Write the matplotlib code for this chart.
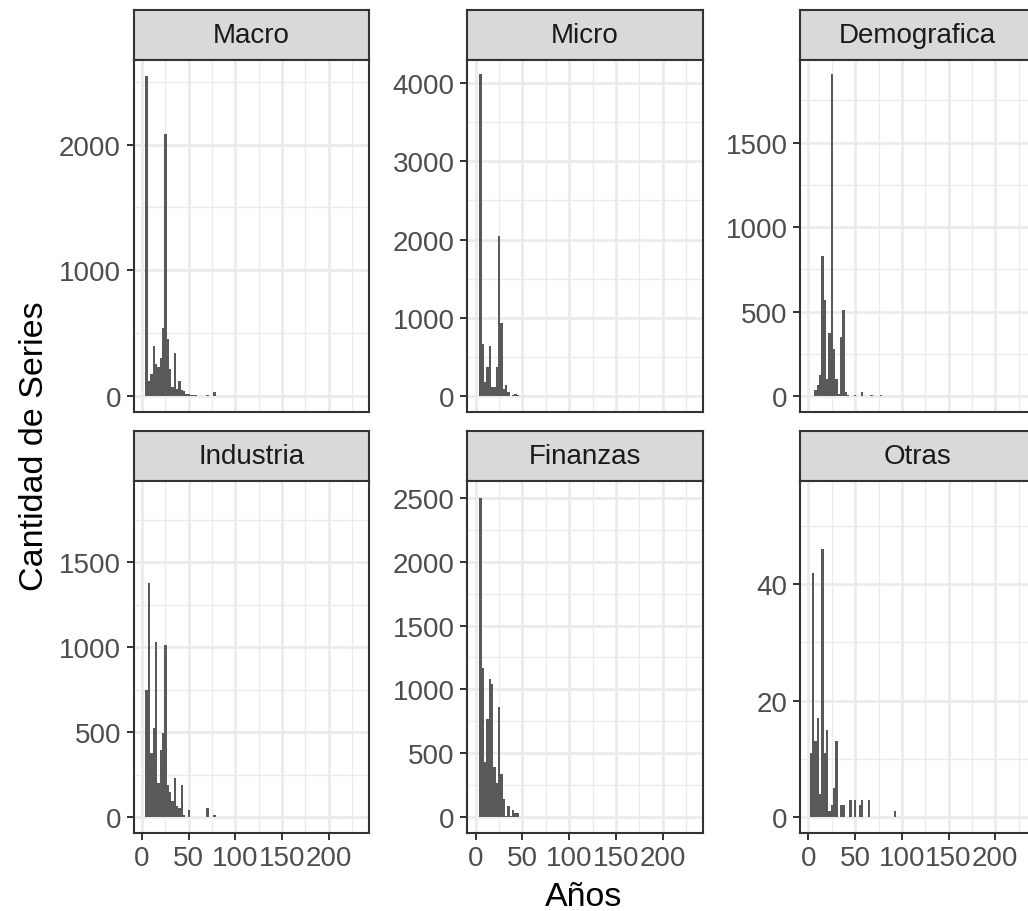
import numpy as np
import matplotlib
matplotlib.use("Agg")
import matplotlib.pyplot as plt

plt.rcParams['font.family'] = ['Liberation Sans', 'DejaVu Sans']

#Bin centers (years) shared by every panel
bins = [2.5, 5, 7.5, 10, 12.5, 15, 17.5, 20, 22.5, 25, 27.5, 30, 32.5, 35, 37.5, 40,
        42.5, 45, 47.5, 50, 52.5, 55, 57.5, 60, 62.5, 65, 67.5, 70, 72.5, 75, 77.5,
        80, 82.5, 85, 87.5, 90, 92.5, 95]
binwidth = 2.5

#Counts per panel, one value per bin
macro = [0, 2545, 123, 175, 400, 254, 228, 306, 542, 2087, 450, 215, 70, 345, 58, 123,
         45, 37, 13, 12, 10, 10, 8, 0, 0, 0, 0, 6, 0, 0, 30,
         0, 0, 0, 0, 0, 0, 0]
micro = [0, 4115, 665, 178, 368, 643, 114, 114, 368, 2040, 931, 93, 135, 50, 0, 15,
         20, 10, 0, 0, 0, 0, 0, 0, 0, 0, 0, 0, 0, 0, 0,
         0, 0, 0, 0, 0, 0, 0]
demografica = [0, 0, 37, 63, 122, 827, 567, 102, 376, 1906, 278, 102, 10, 347, 510, 24,
               8, 0, 0, 6, 0, 0, 24, 0, 0, 0, 6, 0, 0, 0, 6,
               0, 0, 0, 0, 0, 0, 0]
industria = [0, 746, 1381, 379, 527, 1029, 203, 394, 496, 1016, 189, 150, 92, 232, 62, 53,
             191, 14, 0, 43, 0, 0, 0, 0, 0, 0, 0, 53, 0, 0, 10,
             0, 0, 0, 0, 0, 0, 0]
finanzas = [0, 2500, 1167, 433, 770, 1081, 1042, 394, 270, 861, 334, 140, 10, 83, 5, 52,
            31, 31, 0, 0, 0, 0, 0, 0, 0, 0, 0, 0, 0, 0, 0,
            0, 0, 0, 0, 0, 0, 0]
otras = [11, 42, 13, 17, 4, 46, 11, 15, 1, 2, 5, 13, 0, 2, 2, 0,
         0, 3, 0, 3, 0, 2, 3, 0, 0, 3, 0, 0, 0, 0, 0,
         0, 0, 0, 0, 0, 1, 0]

panel_names = ["Macro", "Micro", "Demografica", "Industria", "Finanzas", "Otras"]
panel_counts = [macro, micro, demografica, industria, finanzas, otras]
#upper end of each free y scale (before the 5% padding)
y_scale_max = [2545, 4090, 1895, 1886, 2507, 55]
y_breaks = [[0, 1000, 2000],
            [0, 1000, 2000, 3000, 4000],
            [0, 500, 1000, 1500],
            [0, 500, 1000, 1500],
            [0, 500, 1000, 1500, 2000, 2500],
            [0, 20, 40]]
x_breaks = [0, 50, 100, 150, 200]
x_minor = [25, 75, 125, 175, 225]

W, H = 1028, 912
fig = plt.figure(figsize=(W / 100, H / 100), dpi=100)

#Layout in pixels (facet_wrap look)
col_left = [133.5, 467.3, 800]
row_top = [11, 432]
strip_h = 50
panel_h = 352
panel_w = 235.5

border = '#333333'
for i, name in enumerate(panel_names):
    r, c = divmod(i, 3)
    x0 = col_left[c]
    y0 = row_top[r]
    #strip
    sax = fig.add_axes([x0 / W, 1 - (y0 + strip_h) / H, panel_w / W, strip_h / H])
    sax.set_facecolor('#D9D9D9')
    sax.set_xticks([])
    sax.set_yticks([])
    for s in sax.spines.values():
        s.set_color(border)
        s.set_linewidth(1.5)
    sax.text(0.5, 0.5, name, ha='center', va='center', fontsize=20, color='#1A1A1A',
             transform=sax.transAxes)

    #panel
    ax = fig.add_axes([x0 / W, 1 - (y0 + strip_h + panel_h) / H, panel_w / W, panel_h / H])
    counts = np.array(panel_counts[i])
    ax.bar(bins, counts, width=binwidth, color='#595959', linewidth=0)
    ymax = y_scale_max[i]
    ax.set_xlim(-9.1, 243.1)

    yb = y_breaks[i]
    step = yb[1] - yb[0]
    yminor = [v + step / 2 for v in yb]
    ax.set_xticks(x_breaks)
    ax.set_xticks(x_minor, minor=True)
    ax.set_yticks(yb)
    ax.set_yticks(yminor, minor=True)
    ax.set_yticklabels([str(v) for v in yb])
    ax.set_ylim(-0.05 * ymax, 1.05 * ymax)
    ax.grid(True, which='major', color='#EBEBEB', linewidth=1.9)
    ax.grid(True, which='minor', color='#EBEBEB', linewidth=0.95)
    ax.set_axisbelow(True)
    ax.tick_params(which='minor', length=0)
    ax.tick_params(which='major', length=5, width=1.4, color=border,
                   labelsize=20, labelcolor='#4D4D4D', pad=4)
    if r == 0:
        ax.tick_params(axis='x', which='major', length=0, labelbottom=False)
    for s in ax.spines.values():
        s.set_color(border)
        s.set_linewidth(1.5)

fig.text(35 / W, 1 - 446 / H, "Cantidad de Series", rotation=90, ha='center', va='center',
         fontsize=24.5, color='black')
fig.text(584 / W, 1 - 906 / H, "Años", ha='center', va='baseline', fontsize=24.5, color='black')

fig.savefig("out.png", dpi=100)
